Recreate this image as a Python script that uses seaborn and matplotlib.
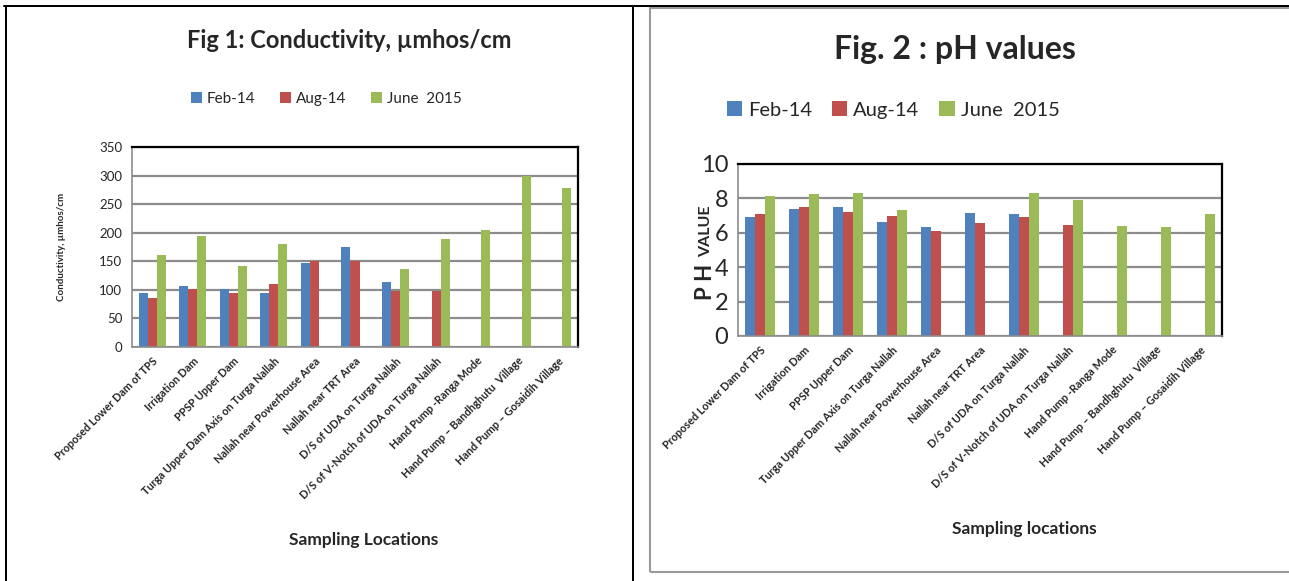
import numpy as np
import pandas as pd
import matplotlib
matplotlib.use("Agg")
import matplotlib.pyplot as plt
from matplotlib.lines import Line2D
from matplotlib.patches import Rectangle
import seaborn as sns

# ---- data -------------------------------------------------------------
locations = [
    "Proposed Lower Dam of TPS",
    "Irrigation Dam",
    "PPSP Upper Dam",
    "Turga Upper Dam Axis on Turga Nallah",
    "Nallah near Powerhouse Area",
    "Nallah near TRT Area",
    "D/S of UDA on Turga Nallah",
    "D/S of V-Notch of UDA on Turga Nallah",
    "Hand Pump -Ranga Mode",
    "Hand Pump \u2013 Bandhghutu  Village",
    "Hand Pump \u2013 Gosaidih Village",
]
periods = ["Feb-14", "Aug-14", "June  2015"]
colors = ["#4F81BD", "#C0504D", "#9BBB59"]
nan = np.nan

cond_feb14 = [95, 106, 102, 95, 147, 175, 113, nan, nan, nan, nan]
cond_aug14 = [85, 102, 95, 110, 150, 150, 98, 98, nan, nan, nan]
cond_jun15 = [161, 195, 142, 181, nan, nan, 137, 189, 205, 300, 279]

ph_feb14 = [6.90, 7.38, 7.48, 6.61, 6.32, 7.15, 7.07, nan, nan, nan, nan]
ph_aug14 = [7.11, 7.48, 7.21, 6.98, 6.12, 6.55, 6.90, 6.45, nan, nan, nan]
ph_jun15 = [8.14, 8.26, 8.29, 7.31, nan, nan, 8.29, 7.91, 6.38, 6.34, 7.09]

cond_ticks = [0, 50, 100, 150, 200, 250, 300, 350]
ph_ticks = [0, 2, 4, 6, 8, 10]


def long_form(series):
    rows = []
    for period, vals in zip(periods, series):
        for loc, v in zip(locations, vals):
            if not np.isnan(v):
                rows.append({"location": loc, "period": period, "value": v})
    return pd.DataFrame(rows)


cond_df = long_form([cond_feb14, cond_aug14, cond_jun15])
ph_df = long_form([ph_feb14, ph_aug14, ph_jun15])

# ---- style ------------------------------------------------------------
sns.set_style("white")
plt.rcParams["font.family"] = ["Lato", "DejaVu Sans"]

W, H = 1289, 581
fig = plt.figure(figsize=(W / 100, H / 100), dpi=100)


def fx(px):
    return px / W


def fy(py):
    return 1 - py / H


GRID = "#8C8C8C"


def draw_panel(ax, df, ticks, tick_fs, xtick_fs):
    sns.barplot(data=df, x="location", y="value", hue="period",
                order=locations, hue_order=periods, palette=colors,
                width=0.667, saturation=1, linewidth=0, errorbar=None,
                ax=ax)
    handles, labels = ax.get_legend_handles_labels()
    if ax.get_legend() is not None:
        ax.get_legend().remove()
    ax.set_xlim(-0.5, len(locations) - 0.5)
    ax.set_ylim(ticks[0], ticks[-1])
    ax.set_yticks(ticks)
    ax.tick_params(axis="y", labelsize=tick_fs, length=4, width=1,
                   color=GRID, pad=3)
    ax.set_xticks(range(len(locations)))
    ax.set_xticklabels(locations, rotation=45, ha="right",
                       rotation_mode="anchor", fontsize=xtick_fs,
                       fontweight="bold")
    ax.tick_params(axis="x", length=0, pad=6)
    ax.set_xticks(np.arange(-0.5, len(locations), 1), minor=True)
    ax.tick_params(axis="x", which="minor", length=5, width=1, color=GRID)
    ax.yaxis.grid(True, color=GRID, linewidth=1.6)
    ax.set_axisbelow(True)
    for s in ("top", "right"):
        ax.spines[s].set_color("black")
        ax.spines[s].set_linewidth(1.6)
    for s in ("left", "bottom"):
        ax.spines[s].set_color(GRID)
        ax.spines[s].set_linewidth(1.2)
    ax.set_xlabel("")
    ax.set_ylabel("")
    return handles, labels


# ---- Fig 1: conductivity ---------------------------------------------
ax1 = fig.add_axes([fx(132), fy(347), fx(578 - 132), (347 - 147) / H])
h1, l1 = draw_panel(ax1, cond_df, cond_ticks, 9.5, 7.8)
fig.text(fx(349), fy(40), "Fig 1: Conductivity, \u00b5mhos/cm", ha="center",
         va="center", fontsize=17, fontweight="bold")
fig.legend(h1, l1, loc="center", bbox_to_anchor=(fx(326), fy(99)), ncol=3,
           frameon=False, fontsize=11, handlelength=0.75, handleheight=0.75,
           handletextpad=0.3, columnspacing=1.6)
fig.text(fx(62), fy(247), "Conductivity, \u00b5mhos/cm", rotation=90,
         ha="center", va="center", fontsize=7, fontweight="bold")
fig.text(fx(364), fy(540), "Sampling Locations", ha="center", va="center",
         fontsize=12.5, fontweight="bold")

# ---- Fig 2: pH ---------------------------------------------------------
ax2 = fig.add_axes([fx(738), fy(336), fx(1222 - 738), (336 - 164) / H])
h2, l2 = draw_panel(ax2, ph_df, ph_ticks, 17, 7.8)
fig.text(fx(955), fy(50), "Fig. 2 : pH values", ha="center", va="center",
         fontsize=23, fontweight="bold")
fig.legend(h2, l2, loc="center", bbox_to_anchor=(fx(893), fy(110)), ncol=3,
           frameon=False, fontsize=14.5, handlelength=0.75,
           handleheight=0.75, handletextpad=0.3, columnspacing=1.0)
fig.text(fx(705), fy(300), "P H", rotation=90, ha="center", va="bottom",
         fontsize=16, fontweight="bold")
fig.text(fx(706), fy(257), "VALUE", rotation=90, ha="center", va="bottom",
         fontsize=11.5, fontweight="bold")
fig.text(fx(1024), fy(529), "Sampling locations", ha="center", va="center",
         fontsize=12.5, fontweight="bold")

# ---- page frames -------------------------------------------------------
lw_black = 2.0 * 0.72
fig.add_artist(Line2D([fx(4), fx(W)], [fy(6), fy(6)], color="black",
                      lw=lw_black, transform=fig.transFigure))
fig.add_artist(Line2D([fx(6), fx(6)], [fy(6), fy(H + 2)], color="black",
                      lw=lw_black, transform=fig.transFigure))
fig.add_artist(Line2D([fx(633), fx(633)], [fy(6), fy(H + 2)], color="black",
                      lw=lw_black, transform=fig.transFigure))
fig.add_artist(Rectangle((fx(650), fy(572)), fx(W + 20 - 650),
                         (572 - 8) / H, fill=False, edgecolor="#9A9A9A",
                         lw=1.5, transform=fig.transFigure))

fig.savefig("out.png", dpi=100, facecolor="white")
